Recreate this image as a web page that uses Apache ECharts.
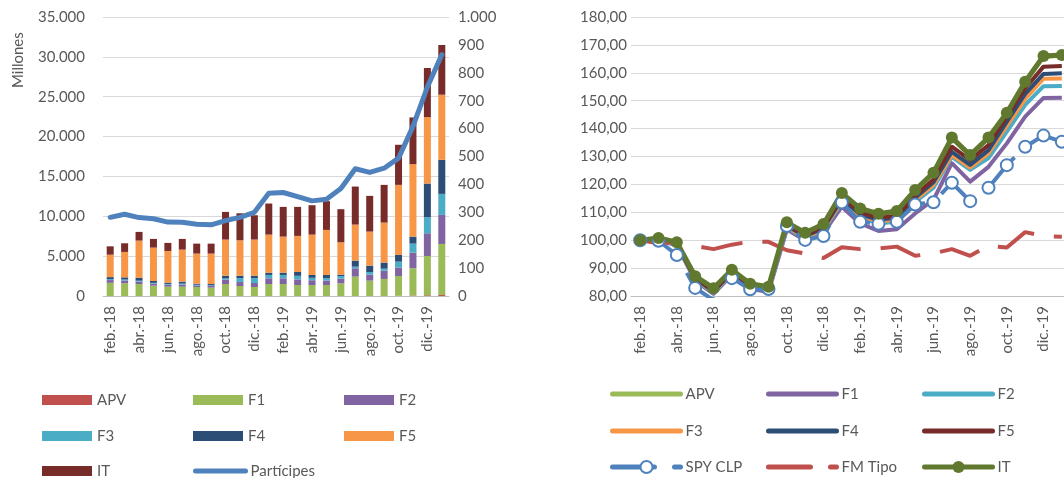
<!DOCTYPE html>
<html>
<head>
<meta charset="utf-8">
<script src="https://cdn.jsdelivr.net/npm/echarts@6/dist/echarts.min.js"></script>
<style>
  html, body { margin: 0; padding: 0; background: #fff; overflow: hidden; }
  /* el grafico derecho queda cortado en el borde, como en el original */
  #chart { width: 1080px; height: 478px; }
</style>
</head>
<body>
<div id="chart"></div>
<script>
// categorias (meses)
let meses = ['feb.-18', 'mar.-18', 'abr.-18', 'may.-18', 'jun.-18', 'jul.-18', 'ago.-18', 'sept.-18',
  'oct.-18', 'nov.-18', 'dic.-18', 'ene.-19', 'feb.-19', 'mar.-19', 'abr.-19', 'may.-19',
  'jun.-19', 'jul.-19', 'ago.-19', 'sept.-19', 'oct.-19', 'nov.-19', 'dic.-19', 'ene.-20'];

// patrimonio por fondo (millones) - grafico izquierdo
let apvM = [0, 0, 0, 0, 0, 0, 0, 0, 0, 0, 0, 0, 0, 0, 0, 0, 0, 0, 0, 0, 30, 60, 90, 120];
let f1M = [1650, 1600, 1500, 1300, 1170, 1170, 1130, 1050, 1500, 1250, 1130, 1500, 1500, 1380, 1380, 1380, 1590, 2430, 1930, 2140, 2480, 3420, 4930, 6410];
let f2M = [350, 350, 300, 250, 250, 270, 200, 220, 550, 500, 500, 720, 720, 700, 600, 560, 590, 1050, 750, 1040, 1050, 1960, 2850, 3640];
let f3M = [120, 120, 120, 100, 90, 120, 80, 80, 150, 500, 600, 420, 420, 450, 300, 300, 330, 200, 330, 250, 750, 1130, 2010, 2640];
let f4M = [250, 270, 380, 230, 170, 240, 140, 150, 350, 300, 320, 290, 290, 480, 360, 400, 170, 760, 800, 760, 840, 880, 4230, 4270];
let f5M = [2810, 3190, 4650, 4190, 3970, 4020, 3770, 3820, 4530, 4440, 4530, 4770, 4520, 4530, 5060, 5650, 4060, 4520, 4270, 5020, 8790, 9090, 8330, 8170];
let itM = [1050, 1085, 1090, 1090, 1010, 1340, 1250, 1250, 3470, 3390, 3050, 3900, 3730, 3640, 3690, 3610, 4150, 4770, 4480, 4730, 5030, 5860, 6160, 6240];
let participes = [282, 293, 281, 277, 265, 264, 257, 255, 270, 282, 300, 368, 371, 356, 341, 347, 385, 456, 443, 458, 494, 608, 749, 865];

// indices de valor cuota (base 100) - grafico derecho
let apvR = [99.8, 100.5, 99.0, 86.8, 82.5, 89.1, 84.1, 83.0, 106.1, 102.4, 105.5, 116.6, 111.1, 109.2, 110.2, 117.7, 123.9, 136.5, 130.2, 136.5, 145.4, 156.5, 165.7, 166.1];
let f1R = [100, 100.0, 98.2, 85.5, 80.8, 87.6, 82.6, 81.4, 103.8, 100.0, 102.6, 112.0, 106.0, 103.3, 103.9, 109.6, 114.5, 127.6, 121.0, 126.3, 134.7, 144.3, 151.0, 151.1];
let f2R = [100, 100.1, 98.5, 85.8, 81.2, 88.0, 83.0, 82.0, 104.5, 100.7, 103.5, 113.7, 108.1, 106.0, 106.7, 113.7, 118.8, 129.9, 125.2, 129.4, 138.9, 148.5, 155.2, 155.3];
let f3R = [100, 100.2, 98.6, 86.0, 81.5, 88.2, 83.2, 82.2, 104.8, 101.0, 103.9, 114.2, 108.7, 106.7, 107.4, 114.4, 119.8, 130.5, 126.0, 131.1, 141.0, 150.6, 157.9, 158.0];
let f4R = [100, 100.3, 98.8, 86.2, 81.7, 88.5, 83.5, 82.5, 105.2, 101.4, 104.3, 114.8, 109.3, 107.3, 108.1, 115.2, 120.8, 131.7, 127.0, 132.3, 142.5, 152.4, 159.6, 159.8];
let f5R = [100, 100.4, 99.0, 86.5, 82.0, 88.8, 83.8, 82.8, 105.6, 101.8, 104.8, 115.5, 110.0, 108.0, 108.8, 116.0, 121.8, 133.5, 128.7, 134.1, 144.3, 154.4, 162.2, 162.4];
let spyR = [100, 99.8, 94.7, 82.9, 78.5, 86.4, 82.4, 82.5, 105.1, 100.1, 101.5, 113.5, 106.6, 105.9, 106.6, 112.8, 113.6, 120.6, 114.0, 118.8, 126.9, 133.5, 137.5, 135.3];
let fmR = [100, 98.9, 99.4, 98.0, 96.8, 98.4, 99.5, 99.4, 96.4, 95.2, 93.6, 97.5, 96.8, 97.0, 97.7, 94.4, 95.3, 96.8, 94.4, 98.0, 97.4, 102.9, 101.5, 101.2];
let itR = [100, 100.8, 99.3, 87.1, 82.8, 89.4, 84.4, 83.3, 106.4, 102.7, 105.8, 116.9, 111.4, 109.5, 110.5, 118.0, 124.2, 136.8, 130.5, 136.8, 145.7, 156.8, 166.0, 166.4];

let fuente = 'Lato';
let gris = '#595959';

let colIzq = { APV: '#c0504d', F1: '#9bbb59', F2: '#8064a2', F3: '#4bacc6', F4: '#2c4d75', F5: '#f79646', IT: '#772c2a' };
let barras = [['APV', apvM], ['F1', f1M], ['F2', f2M], ['F3', f3M], ['F4', f4M], ['F5', f5M], ['IT', itM]];

let lineasDer = [
  ['APV', apvR, '#9bbb59'], ['F1', f1R, '#8064a2'], ['F2', f2R, '#4bacc6'],
  ['F3', f3R, '#f79646'], ['F4', f4R, '#2c4d75'], ['F5', f5R, '#772c2a']
];

let miles = (v) => String(v).replace(/\B(?=(\d{3})+(?!\d))/g, '.');

let ejeX = (grid) => ({
  type: 'category', gridIndex: grid, data: meses,
  axisLine: { lineStyle: { color: '#bfbfbf', width: 1 } },
  axisTick: { interval: 1, length: 5, lineStyle: { color: '#bfbfbf' } },
  axisLabel: { interval: 1, rotate: 90, margin: 10, fontFamily: fuente, fontSize: 15, color: gris }
});

let leyenda = (nombre, left, cy, extra) => Object.assign({
  data: [nombre], left: left, top: cy - 9, padding: 0, selectedMode: false,
  textStyle: { fontFamily: fuente, fontSize: 15, lineHeight: 18, color: gris },
  formatter: (n) => n.replace('r:', '')
}, extra);

let series = [];
barras.forEach(([n, d]) => {
  series.push({
    name: n, type: 'bar', stack: 'total', xAxisIndex: 0, yAxisIndex: 0,
    barWidth: 7, data: d, itemStyle: { color: colIzq[n] }
  });
});
series.push({
  name: 'Partícipes', type: 'line', xAxisIndex: 0, yAxisIndex: 1, data: participes,
  symbol: 'none', z: 5, lineStyle: { color: '#4f81bd', width: 5, join: 'round', cap: 'round' },
  itemStyle: { color: '#4f81bd' }
});

lineasDer.forEach(([n, d, c]) => {
  series.push({
    name: 'r:' + n, type: 'line', xAxisIndex: 1, yAxisIndex: 2, data: d,
    symbol: 'none', lineStyle: { color: c, width: 4, join: 'round' }, itemStyle: { color: c }
  });
});
series.push({
  name: 'r:SPY CLP', type: 'line', xAxisIndex: 1, yAxisIndex: 2, data: spyR,
  symbol: 'circle', symbolSize: 12,
  lineStyle: { color: '#4f81bd', width: 4, type: [42, 20], join: 'round' },
  itemStyle: { color: '#ffffff', borderColor: '#4f81bd', borderWidth: 2 }
});
series.push({
  name: 'r:FM Tipo', type: 'line', xAxisIndex: 1, yAxisIndex: 2, data: fmR,
  symbol: 'none', lineStyle: { color: '#c0504d', width: 4, type: [42, 20] },
  itemStyle: { color: '#c0504d' }
});
series.push({
  name: 'r:IT', type: 'line', xAxisIndex: 1, yAxisIndex: 2, data: itR,
  symbol: 'circle', symbolSize: 12,
  lineStyle: { color: '#60792f', width: 5, join: 'round' }, itemStyle: { color: '#60792f' }
});

let barLeg = { icon: 'rect', itemWidth: 50, itemHeight: 10 };
let linLeg = { itemWidth: 68, itemHeight: 12, lineStyle: { cap: 'round', width: 5 }, itemStyle: { opacity: 0 } };
let mrkLeg = { itemWidth: 68, itemHeight: 15, lineStyle: { cap: 'round', width: 5 } };

let legends = [
  leyenda('APV', 42, 400, barLeg), leyenda('F1', 193, 400, barLeg), leyenda('F2', 344, 400, barLeg),
  leyenda('F3', 42, 436, barLeg), leyenda('F4', 193, 436, barLeg), leyenda('F5', 344, 436, barLeg),
  leyenda('IT', 42, 471, barLeg),
  leyenda('Partícipes', 193, 471, { itemWidth: 50, itemHeight: 10, lineStyle: { cap: 'round', width: 5 }, itemStyle: { opacity: 0 } }),
  leyenda('r:APV', 610, 394, linLeg), leyenda('r:F1', 766, 394, linLeg), leyenda('r:F2', 922, 394, linLeg),
  leyenda('r:F3', 610, 431, linLeg), leyenda('r:F4', 766, 431, linLeg), leyenda('r:F5', 922, 431, linLeg),
  leyenda('r:SPY CLP', 610, 467, mrkLeg), leyenda('r:FM Tipo', 766, 467, linLeg), leyenda('r:IT', 922, 467, mrkLeg)
];

let chart = echarts.init(document.getElementById('chart'));
chart.setOption({
  animation: false,
  backgroundColor: '#ffffff',
  grid: [
    { left: 103, width: 346, top: 17, bottom: 182 },
    { left: 631, width: 440, top: 17, bottom: 182 }
  ],
  xAxis: [ejeX(0), ejeX(1)],
  yAxis: [
    {
      type: 'value', gridIndex: 0, min: 0, max: 35000, interval: 5000,
      axisLine: { show: false }, axisTick: { show: false },
      splitLine: { lineStyle: { color: '#d9d9d9', width: 1 } },
      axisLabel: { margin: 18, fontFamily: fuente, fontSize: 15, color: gris, formatter: miles }
    },
    {
      type: 'value', gridIndex: 0, position: 'right', min: 0, max: 1000, interval: 100,
      axisLine: { show: false }, axisTick: { show: false }, splitLine: { show: false },
      axisLabel: { margin: 9, fontFamily: fuente, fontSize: 15, color: gris, formatter: miles }
    },
    {
      type: 'value', gridIndex: 1, min: 80, max: 180, interval: 10,
      axisLine: { show: false }, axisTick: { show: false },
      splitLine: { lineStyle: { color: '#d9d9d9', width: 1 } },
      axisLabel: {
        margin: 4, fontFamily: fuente, fontSize: 15, color: gris,
        formatter: (v) => v.toFixed(2).replace('.', ',')
      }
    }
  ],
  legend: legends,
  graphic: [{
    type: 'text', x: 18, y: 88, rotation: Math.PI / 2,
    style: { text: 'Millones', fontFamily: fuente, fontSize: 15, fill: gris, textAlign: 'left', textVerticalAlign: 'middle' }
  }],
  series: series
});
</script>
</body>
</html>
